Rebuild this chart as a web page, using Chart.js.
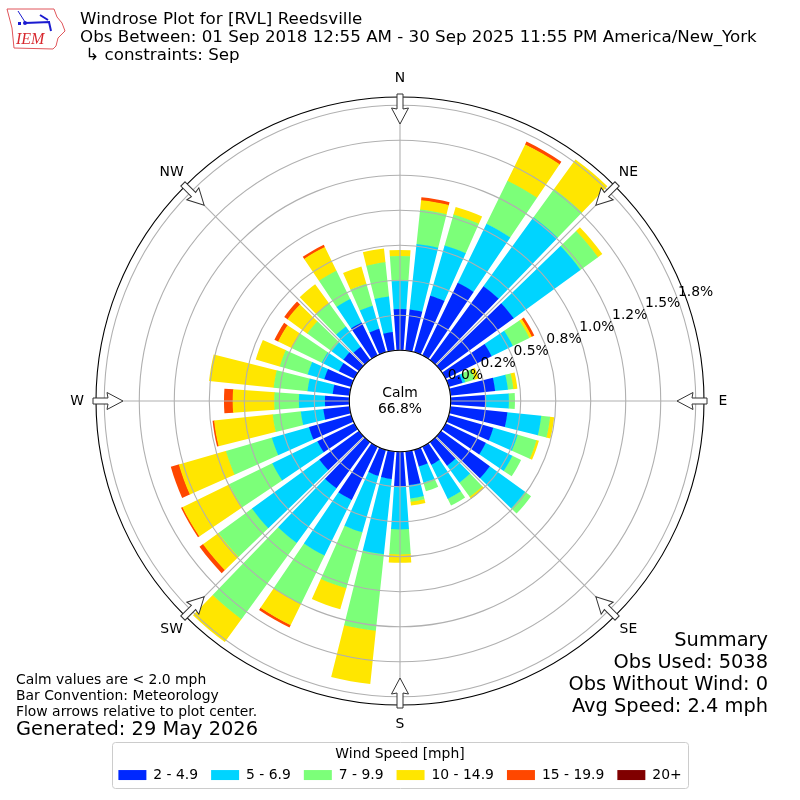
<!DOCTYPE html>
<html>
<head>
<meta charset="utf-8">
<title>Windrose Plot for [RVL] Reedsville</title>
<script src="https://cdn.jsdelivr.net/npm/chart.js@4"></script>
<style>
    html, body { margin: 0; padding: 0; background: #fff; }
    canvas { display: block; }
</style>
</head>
<body>
<canvas id="rose" width="800" height="800"></canvas>
<script>
// percent of observations per 10 degree sector, N then clockwise
const directions = [0, 10, 20, 30, 40, 50, 60, 70, 80, 90, 100, 110, 120, 130, 140, 150, 160, 170,
    180, 190, 200, 210, 220, 230, 240, 250, 260, 270, 280, 290, 300, 310, 320, 330, 340, 350];
const speed2to5 = [.295, .295, .419, .578, .652, .642, .366, .102, .321, .245, .409, .331, .320, .431, .209, .145, .124, .242,
    .249, .198, .194, .424, .409, .350, .294, .314, .188, .174, .121, .200, .124, .138, .116, .262, .174, .133];
const speed5to7 = [.200, .471, .374, .469, .607, .589, .169, .021, .092, .171, .243, .181, .211, .311, .150, .271, .121, .096,
    .306, .540, .420, .442, .483, .595, .359, .276, .162, .186, .181, .124, .136, .104, .179, .186, .171, .255];
const speed7to10 = [.179, .247, .230, .341, .250, .155, .131, .071, .039, .043, .064, .140, .069, .053, .125, .053, .064, .024,
    .179, .550, .415, .386, .672, .296, .343, .341, .202, .176, .243, .207, .236, .215, .205, .225, .164, .246];
const speed10to15 = [.043, .067, .057, .289, .261, .038, .020, .029, .029, 0, .029, .018, 0, 0, .018, 0, 0, .026,
    .060, .382, .157, .168, .202, .136, .371, .350, .421, .297, .464, .179, .111, .174, .169, .189, .129, .099];
const speed15to20 = [0, .021, 0, .022, 0, 0, .019, 0, 0, 0, 0, 0, 0, 0, 0, 0, 0, 0,
    0, 0, 0, .018, 0, .031, .011, .060, .011, .062, 0, 0, .029, .029, 0, .018, 0, 0];
const speed20up = [0, 0, 0, 0, 0, 0, 0, 0, 0, 0, 0, 0, 0, 0, 0, 0, 0, 0,
    0, 0, 0, 0, 0, 0, 0, 0, 0, 0, 0, 0, 0, 0, 0, 0, 0, 0];

const speedBins = [speed2to5, speed5to7, speed7to10, speed10to15, speed15to20, speed20up];
const speedLabels = ['2 - 4.9', '5 - 6.9', '7 - 9.9', '10 - 14.9', '15 - 19.9', '20+'];
const speedColors = ['#0028ff', '#00d4ff', '#7cff79', '#ffe600', '#ff4700', '#800000'];

const tickValues = [0, .25, .5, .75, 1, 1.25, 1.5, 1.75];
const tickLabels = ['0.0%', '0.2%', '0.5%', '0.8%', '1.0%', '1.2%', '1.5%', '1.8%'];
const compassLabels = ['N', 'NE', 'E', 'SE', 'S', 'SW', 'W', 'NW'];

const headerLines = ['Windrose Plot for [RVL] Reedsville',
    'Obs Between: 01 Sep 2018 12:55 AM - 30 Sep 2025 11:55 PM America/New_York',
    ' \u21b3 constraints: Sep'];
const noteLines = ['Calm values are < 2.0 mph', 'Bar Convention: Meteorology', 'Flow arrows relative to plot center.'];
const generatedLine = 'Generated: 29 May 2026';
const summaryLines = ['Summary', 'Obs Used: 5038', 'Obs Without Wind: 0', 'Avg Speed: 2.4 mph'];
const calmLines = ['Calm', '66.8%'];

const FONT = '"DejaVu Sans"';
const BAR_DEG = 8;
const GAP_DEG = 2;

// every sector becomes a gap slice + a bar slice so the bars do not touch
const labels = [];
directions.forEach(d => labels.push('', d + '°'));

// slice value is the running total, the ring start gets set in afterDatasetsUpdate
const running = directions.map(() => 0);
const datasets = speedBins.map((bin, b) => {
    const data = [];
    bin.forEach((v, i) => {
        running[i] += v;
        data.push(0, running[i]);
    });
    return {
        label: speedLabels[b],
        data: data,
        angle: ctx => ctx.dataIndex === 0 ? GAP_DEG / 2 : (ctx.dataIndex % 2 ? BAR_DEG : GAP_DEG),
        // gaps and empty bins stay transparent, otherwise their edges show round the bar
        backgroundColor: ctx => (ctx.dataIndex % 2 && bin[(ctx.dataIndex - 1) / 2] > 0) ? speedColors[b] : 'rgba(0,0,0,0)',
        borderWidth: 0
    };
});

const text = (ctx, str, x, y, size, align, base) => {
    ctx.font = size + 'px ' + FONT;
    ctx.textAlign = align || 'left';
    ctx.textBaseline = base || 'middle';
    ctx.fillText(str, x, y);
};

function drawLogo(ctx) {
    ctx.save();
    ctx.strokeStyle = '#e0555a';
    ctx.lineWidth = 1;
    ctx.beginPath();
    ctx.moveTo(7, 9);
    ctx.lineTo(54, 9);
    ctx.lineTo(57, 17);
    ctx.lineTo(62, 23);
    ctx.lineTo(65, 31);
    ctx.lineTo(58, 38);
    ctx.lineTo(56, 46);
    ctx.lineTo(53, 49);
    ctx.lineTo(14, 48);
    ctx.lineTo(12, 28);
    ctx.closePath();
    ctx.stroke();
    ctx.strokeStyle = '#1a1ad0';
    ctx.fillStyle = '#1a1ad0';
    ctx.lineWidth = 2;
    ctx.beginPath();
    ctx.moveTo(25, 23);
    ctx.lineTo(50, 22);
    ctx.moveTo(40, 15);
    ctx.lineTo(48, 20);
    ctx.moveTo(49, 22);
    ctx.lineTo(51, 31);
    ctx.stroke();
    ctx.lineWidth = 1;
    ctx.beginPath();
    ctx.moveTo(18, 11);
    ctx.lineTo(25, 22);
    ctx.stroke();
    ctx.beginPath();
    ctx.arc(25, 23, 2, 0, Math.PI * 2);
    ctx.fill();
    ctx.fillRect(18, 22, 3, 3);
    ctx.fillStyle = '#d8282e';
    ctx.font = 'italic 16px "Liberation Serif"';
    ctx.textAlign = 'left';
    ctx.textBaseline = 'alphabetic';
    ctx.fillText('IEM', 16, 44);
    ctx.restore();
}

function drawArrow(ctx, scale, index, outer) {
    const p = scale.getPointPosition(index, outer);
    const ang = p.angle + Math.PI;
    ctx.save();
    ctx.translate(p.x, p.y);
    ctx.rotate(ang);
    ctx.beginPath();
    ctx.moveTo(0, -3);
    ctx.lineTo(15, -3);
    ctx.lineTo(14, -8.5);
    ctx.lineTo(30, 0);
    ctx.lineTo(14, 8.5);
    ctx.lineTo(15, 3);
    ctx.lineTo(0, 3);
    ctx.closePath();
    ctx.fillStyle = '#fff';
    ctx.strokeStyle = '#333';
    ctx.lineWidth = 1;
    ctx.fill();
    ctx.stroke();
    ctx.restore();
}

const rosePlugin = {
    id: 'roseExtras',
    afterDatasetsUpdate(chart) {
        // each speed bin starts where the bin below it ends
        for (let b = 1; b < datasets.length; b++) {
            const below = chart.getDatasetMeta(b - 1).data;
            chart.getDatasetMeta(b).data.forEach((arc, i) => {
                arc.innerRadius = Math.max(0, below[i].outerRadius - 0.5);
            });
        }
    },
    afterDraw(chart) {
        const ctx = chart.ctx;
        const scale = chart.scales.r;
        const cx = scale.xCenter, cy = scale.yCenter;
        const outer = scale.getDistanceFromCenterForValue(scale.max);
        const inner = scale.getDistanceFromCenterForValue(0);

        ctx.save();
        ctx.strokeStyle = '#000';
        ctx.lineWidth = 1.1;
        ctx.beginPath();
        ctx.arc(cx, cy, outer, 0, Math.PI * 2);
        ctx.stroke();

        // white hole in the middle for calm
        ctx.fillStyle = '#fff';
        ctx.beginPath();
        ctx.arc(cx, cy, inner, 0, Math.PI * 2);
        ctx.fill();
        ctx.stroke();

        compassLabels.forEach((c, i) => {
            const idx = 1 + i * 9;
            drawArrow(ctx, scale, idx, outer + 3);
            ctx.fillStyle = '#000';
            const p = scale.getPointPosition(idx, outer + 19);
            text(ctx, c, p.x, p.y, 13.9, 'center', 'middle');
        });

        ctx.fillStyle = '#000';
        tickValues.forEach((v, i) => {
            const p = scale.getPointPosition(15, scale.getDistanceFromCenterForValue(v));
            text(ctx, tickLabels[i], p.x, p.y - 1, 13.9, 'left', 'bottom');
        });

        text(ctx, calmLines[0], cx, cy - 8, 13.9, 'center');
        text(ctx, calmLines[1], cx, cy + 8, 13.9, 'center');

        headerLines.forEach((l, i) => text(ctx, l, 80, 20 + i * 18, 16.7));
        noteLines.forEach((l, i) => text(ctx, l, 16, 680 + i * 16, 13.9));
        text(ctx, generatedLine, 16, 730, 19.4);
        summaryLines.forEach((l, i) => text(ctx, l, 768, 640.5 + i * 22, 19.4, 'right'));

        // legend frame
        ctx.strokeStyle = '#cccccc';
        ctx.lineWidth = 1;
        ctx.beginPath();
        ctx.roundRect(112.5, 742.5, 576, 46, 3);
        ctx.stroke();
        ctx.restore();

        drawLogo(ctx);
    }
};

new Chart(document.getElementById('rose'), {
    type: 'polarArea',
    data: { labels: labels, datasets: datasets },
    plugins: [rosePlugin],
    options: {
        responsive: false,
        animation: false,
        layout: { padding: { top: 96, left: 96, right: 96, bottom: 8 } },
        scales: {
            r: {
                min: -0.362,
                max: 1.809,
                startAngle: -5,
                afterBuildTicks: axis => { axis.ticks = tickValues.map(v => ({ value: v })); },
                ticks: { display: false },
                pointLabels: { display: false },
                grid: { color: '#b0b0b0', lineWidth: 1.1, z: 1 },
                angleLines: {
                    display: true,
                    color: '#b0b0b0',
                    lineWidth: ctx => ctx.index % 9 === 1 ? 1.1 : 0
                }
            }
        },
        plugins: {
            tooltip: { enabled: false },
            legend: {
                position: 'bottom',
                title: {
                    display: true,
                    text: 'Wind Speed [mph]',
                    color: '#000',
                    font: { family: FONT, size: 13.9 },
                    padding: { top: 40, bottom: -8.7 }
                },
                labels: {
                    color: '#000',
                    font: { family: FONT, size: 13.9 },
                    boxWidth: 28,
                    boxHeight: 10,
                    padding: 13,
                    generateLabels: () => speedLabels.map((t, i) => ({
                        text: t,
                        fillStyle: speedColors[i],
                        strokeStyle: speedColors[i],
                        lineWidth: 0,
                        hidden: false,
                        datasetIndex: i
                    }))
                }
            }
        }
    }
});
</script>
</body>
</html>
